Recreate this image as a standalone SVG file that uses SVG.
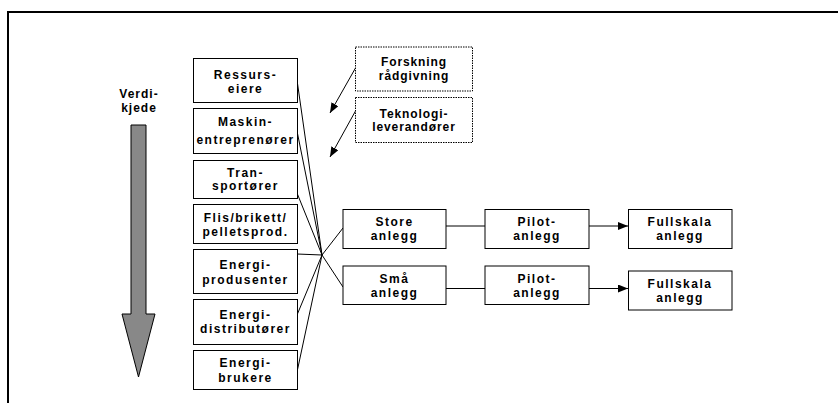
<svg xmlns="http://www.w3.org/2000/svg" width="838" height="403" viewBox="0 0 838 403">
<defs>
<marker id="ah" markerUnits="userSpaceOnUse" markerWidth="11" markerHeight="9" refX="10" refY="4" orient="auto">
<path d="M0,0 L10,4 L0,8 z" fill="#000"/>
</marker>
<style>
.box{fill:#fff;stroke:#000;stroke-width:1}
.dbox{fill:#fff;stroke:#000;stroke-width:1;stroke-dasharray:1.5 1}
.t{font-family:"Liberation Sans",Arial,sans-serif;font-weight:bold;font-size:12px;fill:#000;text-anchor:middle;letter-spacing:1.5px}
.td{letter-spacing:0.9px}
.ln{fill:none;stroke:#000;stroke-width:1}
</style>
</defs>
<rect width="838" height="403" fill="#fff"/>
<path d="M8,403 V12 H838" fill="none" stroke="#000" stroke-width="2"/>

<g id="verdikjede">
<text class="t" x="139" y="97.5" style="letter-spacing:1px">Verdi-</text>
<text class="t" x="139" y="111.5" style="letter-spacing:1px">kjede</text>
<path d="M131,125 H146 V314 H155 L138.5,377 L122,314 H131 Z" fill="#888" stroke="#000" stroke-width="1"/>
</g>

<g id="connectors">
<line class="ln" x1="297" y1="80" x2="322" y2="255"/>
<line class="ln" x1="297" y1="131" x2="322" y2="255"/>
<line class="ln" x1="297" y1="193" x2="322" y2="255"/>
<line class="ln" x1="297" y1="254" x2="322" y2="255"/>
<line class="ln" x1="297" y1="315" x2="322" y2="255"/>
<line class="ln" x1="297" y1="372" x2="322" y2="255"/>
<line class="ln" x1="322" y1="255" x2="343" y2="228"/>
<line class="ln" x1="322" y1="255" x2="343" y2="287"/>
<line class="ln" x1="446" y1="226" x2="485" y2="226"/>
<line class="ln" x1="446" y1="288.5" x2="485" y2="288.5"/>
<line class="ln" x1="589" y1="226" x2="628" y2="226" marker-end="url(#ah)"/>
<line class="ln" x1="589" y1="288.5" x2="628" y2="288.5" marker-end="url(#ah)"/>
<line class="ln" x1="355.5" y1="68" x2="330" y2="113" marker-end="url(#ah)"/>
<line class="ln" x1="355.5" y1="111" x2="330" y2="157" marker-end="url(#ah)"/>
</g>

<g id="ressurseiere">
<rect class="box" x="193.5" y="58.5" width="104" height="44"/>
<text class="t" x="245.5" y="78.5">Ressurs-</text>
<text class="t" x="245.5" y="92.5">eiere</text>
</g>
<g id="maskinentreprenorer">
<rect class="box" x="193.5" y="108.5" width="104" height="45"/>
<text class="t" x="245.5" y="126">Maskin-</text>
<text class="t" x="245.5" y="144">entreprenører</text>
</g>
<g id="transportorer">
<rect class="box" x="193.5" y="160.5" width="104" height="38"/>
<text class="t" x="245.5" y="176.5">Tran-</text>
<text class="t" x="245.5" y="190">sportører</text>
</g>
<g id="flis">
<rect class="box" x="193.5" y="204.5" width="104" height="39"/>
<text class="t" x="245.5" y="221.5">Flis/brikett/</text>
<text class="t" x="245.5" y="236">pelletsprod.</text>
</g>
<g id="energiprodusenter">
<rect class="box" x="193.5" y="249.5" width="104" height="44"/>
<text class="t" x="245.5" y="268.5">Energi-</text>
<text class="t" x="245.5" y="283.5">produsenter</text>
</g>
<g id="energidistributorer">
<rect class="box" x="193.5" y="299.5" width="104" height="45"/>
<text class="t" x="245.5" y="318.5">Energi-</text>
<text class="t" x="245.5" y="333">distributører</text>
</g>
<g id="energibrukere">
<rect class="box" x="193.5" y="350.5" width="104" height="39"/>
<text class="t" x="245.5" y="367">Energi-</text>
<text class="t" x="245.5" y="381.5">brukere</text>
</g>

<g id="forskning">
<rect class="dbox" x="355.5" y="47" width="117" height="44"/>
<text class="t td" x="414" y="66">Forskning</text>
<text class="t td" x="414" y="79.5">rådgivning</text>
</g>
<g id="teknologi">
<rect class="dbox" x="355.5" y="97.5" width="117" height="45"/>
<text class="t td" x="414" y="117.5">Teknologi-</text>
<text class="t td" x="414" y="131">leverandører</text>
</g>

<g id="store">
<rect class="box" x="343" y="209.5" width="103" height="39"/>
<text class="t" x="394.5" y="226">Store</text>
<text class="t" x="394.5" y="240">anlegg</text>
</g>
<g id="sma">
<rect class="box" x="343" y="266" width="103" height="38.5"/>
<text class="t" x="394.5" y="282.5">Små</text>
<text class="t" x="394.5" y="296.5">anlegg</text>
</g>
<g id="pilot1">
<rect class="box" x="485" y="209.5" width="104" height="39"/>
<text class="t" x="537" y="226">Pilot-</text>
<text class="t" x="537" y="240">anlegg</text>
</g>
<g id="pilot2">
<rect class="box" x="485" y="266" width="104" height="38.5"/>
<text class="t" x="537" y="282.5">Pilot-</text>
<text class="t" x="537" y="296.5">anlegg</text>
</g>
<g id="fullskala1">
<rect class="box" x="628.5" y="209.5" width="103.5" height="39"/>
<text class="t" x="680" y="226">Fullskala</text>
<text class="t" x="680" y="240">anlegg</text>
</g>
<g id="fullskala2">
<rect class="box" x="628.5" y="271" width="103.5" height="39"/>
<text class="t" x="680" y="288">Fullskala</text>
<text class="t" x="680" y="302">anlegg</text>
</g>
</svg>
